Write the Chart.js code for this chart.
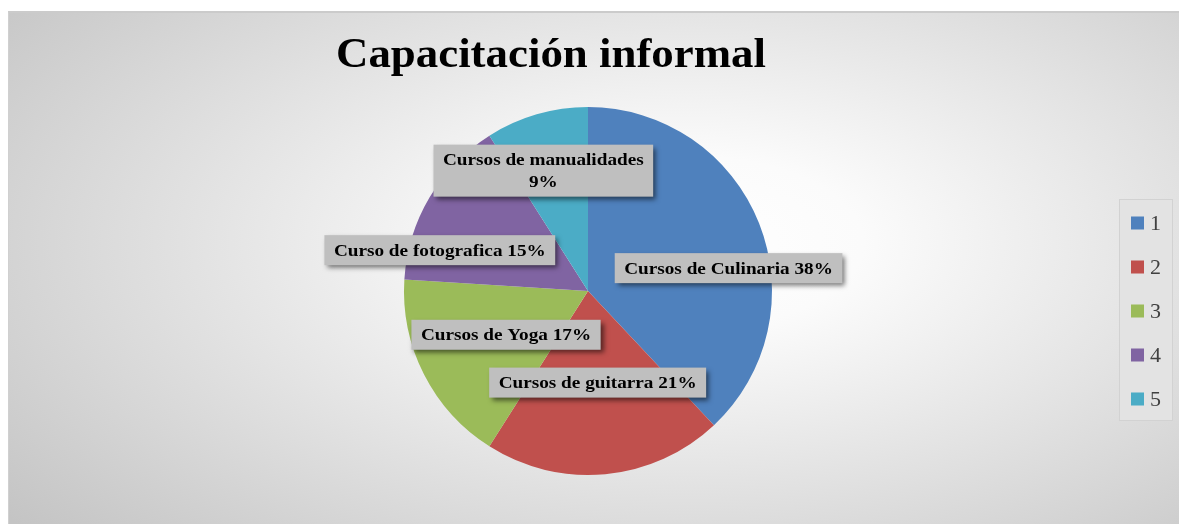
<!DOCTYPE html>
<html>
<head>
<meta charset="utf-8">
<script src="https://cdn.jsdelivr.net/npm/chart.js@4.4.1/dist/chart.umd.min.js"></script>
<style>
  body { margin: 0; background: #fff; width: 1179px; height: 524px; overflow: hidden; }
  #marco {
    position: absolute; left: 8px; top: 11px; width: 1171px; height: 513px;
    border-top: 2px solid #cbcbcb; border-left: 1px solid #d0d0d0; box-sizing: border-box;
    background: radial-gradient(ellipse 75% 85% at 58% 45%, #ffffff 0%, #fbfbfb 20%, #c4c4c4 100%);
  }
  canvas { position: absolute; left: 0; top: 0; }
</style>
</head>
<body>
<div id="marco"><canvas id="grafico" width="1170" height="511"></canvas></div>
<script>
// DATOS
const categorias = ['1', '2', '3', '4', '5'];
const nombresCursos = ['Cursos de Culinaria', 'Cursos de guitarra', 'Cursos de Yoga', 'Curso de fotografica', 'Cursos de manualidades'];
const porcentajes = [38, 21, 17, 15, 9];
const colores = ['#4F81BD', '#C0504D', '#9BBB59', '#8064A2', '#4BACC6'];
const titulo = 'Capacitación informal';

// desplazamiento de cada etiqueta desde el centro de su porción (px)
const ajusteEtiquetas = [[55, 11], [1, 0], [0, 2], [-69, 6], [-19, -32]];
const fuenteSerif = '"Liberation Serif", "DejaVu Serif", serif';
const estiramiento = 1.13; // la fuente original es mas ancha

// texto estirado en horizontal, centrado en x
function textoAncho(c, txt, x, y, sx) {
  c.save();
  c.translate(x, y);
  c.scale(sx, 1);
  c.fillText(txt, 0, 0);
  c.restore();
}

const ctx = document.getElementById('grafico').getContext('2d');

const tituloPlugin = {
  id: 'tituloPlugin',
  afterDraw(chart) {
    const c = chart.ctx;
    c.save();
    c.font = 'bold 42px ' + fuenteSerif;
    c.fillStyle = '#000';
    c.textAlign = 'center';
    c.textBaseline = 'alphabetic';
    const sx = 430 / c.measureText(titulo).width;
    textoAncho(c, titulo, 542, 54, sx);
    c.restore();
  }
};

const etiquetasPlugin = {
  id: 'etiquetasPlugin',
  afterDatasetsDraw(chart) {
    const c = chart.ctx;
    const meta = chart.getDatasetMeta(0);
    c.save();
    c.font = 'bold 17px ' + fuenteSerif;
    c.textAlign = 'center';
    c.textBaseline = 'middle';
    meta.data.forEach((arc, i) => {
      const pos = arc.tooltipPosition();
      const x = pos.x + ajusteEtiquetas[i][0];
      const y = pos.y + ajusteEtiquetas[i][1];
      let lineas = [nombresCursos[i] + ' ' + porcentajes[i] + '%'];
      if (i === 4) lineas = [nombresCursos[i], porcentajes[i] + '%'];
      const ancho = Math.max(...lineas.map(l => c.measureText(l).width)) * estiramiento + 19;
      const alto = lineas.length * 22 + 8;
      c.save();
      c.shadowColor = 'rgba(0,0,0,0.55)';
      c.shadowBlur = 5;
      c.shadowOffsetX = 3;
      c.shadowOffsetY = 3;
      c.fillStyle = '#BFBFBF';
      c.fillRect(x - ancho / 2, y - alto / 2, ancho, alto);
      c.restore();
      c.fillStyle = '#000';
      lineas.forEach((l, k) => {
        textoAncho(c, l, x, y - (lineas.length - 1) * 11 + k * 22 + 1, estiramiento);
      });
    });
    c.restore();
  }
};

const leyendaPlugin = {
  id: 'leyendaPlugin',
  afterDraw(chart) {
    const c = chart.ctx;
    const x0 = 1110, y0 = 186, w = 54, h = 222;
    c.save();
    c.fillStyle = '#E3E3E3';
    c.fillRect(x0, y0, w, h);
    c.strokeStyle = '#D2D2D2';
    c.lineWidth = 1;
    c.strokeRect(x0 + 0.5, y0 + 0.5, w - 1, h - 1);
    c.font = '22px ' + fuenteSerif;
    c.textBaseline = 'middle';
    c.textAlign = 'left';
    chart.data.labels.forEach((lab, i) => {
      const yc = y0 + 24 + i * 44;
      c.fillStyle = chart.data.datasets[0].backgroundColor[i];
      c.fillRect(x0 + 12, yc - 6.5, 13, 13);
      c.fillStyle = '#404040';
      c.fillText(lab, x0 + 31, yc + 1);
    });
    c.restore();
  }
};

const grafico = new Chart(ctx, {
  type: 'pie',
  data: {
    labels: categorias,
    datasets: [{
      data: porcentajes,
      backgroundColor: colores,
      borderWidth: 0
    }]
  },
  options: {
    responsive: false,
    animation: false,
    layout: { padding: { top: 94, bottom: 49, left: 395, right: 407 } },
    plugins: {
      legend: { display: false },
      title: { display: false },
      tooltip: { enabled: false }
    }
  },
  plugins: [tituloPlugin, etiquetasPlugin, leyendaPlugin]
});
</script>
</body>
</html>
